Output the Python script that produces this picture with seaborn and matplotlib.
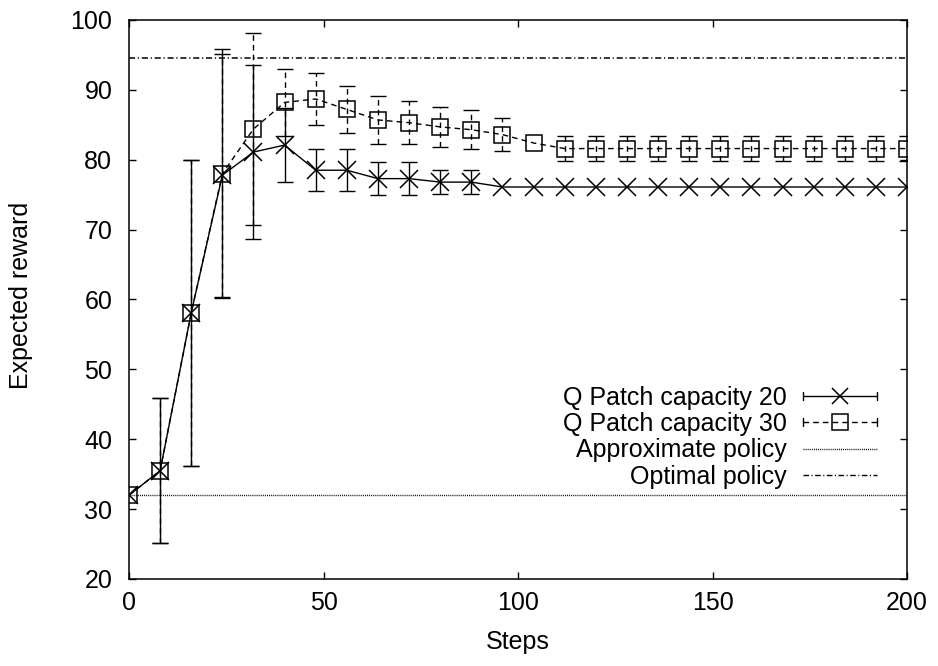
import numpy as np
import pandas as pd
import matplotlib
matplotlib.use("Agg")
import matplotlib.pyplot as plt
import seaborn as sns
from matplotlib.lines import Line2D
from matplotlib.legend_handler import HandlerBase

# ---------------- data ----------------
steps = [0, 8, 16, 24, 32, 40, 48, 56, 64, 72, 80, 88, 96, 104,
         112, 120, 128, 136, 144, 152, 160, 168, 176, 184, 192, 200]

q20_mean = [32.0, 35.5, 58.1, 77.8, 81.1, 82.1, 78.5, 78.5, 77.3, 77.3,
            76.8, 76.8, 76.1, 76.1, 76.1, 76.1, 76.1, 76.1, 76.1, 76.1,
            76.1, 76.1, 76.1, 76.1, 76.1, 76.1]
q20_err = [0.0, 10.4, 21.9, 17.4, 12.5, 5.3, 3.0, 3.0, 2.4, 2.4,
           1.7, 1.7, 0.0, 0.0, 0.0, 0.0, 0.0, 0.0, 0.0, 0.0,
           0.0, 0.0, 0.0, 0.0, 0.0, 0.0]

q30_mean = [32.0, 35.5, 58.1, 78.0, 84.4, 88.2, 88.7, 87.2, 85.7, 85.3,
            84.7, 84.3, 83.6, 82.4, 81.6, 81.6, 81.6, 81.6, 81.6, 81.6,
            81.6, 81.6, 81.6, 81.6, 81.6, 81.6]
q30_err = [0.0, 10.4, 21.9, 17.8, 13.7, 4.8, 3.7, 3.4, 3.4, 3.05,
           2.9, 2.8, 2.4, 0.0, 1.8, 1.8, 1.8, 1.8, 1.8, 1.8,
           1.8, 1.8, 1.8, 1.8, 1.8, 1.8]

approx_policy = 32.0
optimal_policy = 94.6

labels = ["Q Patch capacity 20", "Q Patch capacity 30",
          "Approximate policy", "Optimal policy"]
x_ticks = [0, 50, 100, 150, 200]
y_ticks = [20, 30, 40, 50, 60, 70, 80, 90, 100]

# ---------------- style ----------------
sns.set_theme(style="ticks")
plt.rcParams["font.family"] = ["Liberation Sans", "DejaVu Sans"]
FS = 18
plt.rcParams.update({
    "axes.edgecolor": "black",
    "axes.linewidth": 1.1,
    "xtick.color": "black",
    "ytick.color": "black",
    "text.color": "black",
    "axes.labelcolor": "black",
})

DASH = (0, (4, 3))
DOT = (0, (0.7, 0.8))
DASHDOT = (0, (4, 1.8, 0.8, 1.8))

fig = plt.figure(figsize=(9.38, 6.66), dpi=100)
ax = fig.add_axes([129 / 938, 1 - 579 / 666, 778 / 938, 559 / 666])

df20 = pd.DataFrame({"Steps": steps, "reward": q20_mean})
df30 = pd.DataFrame({"Steps": steps, "reward": q30_mean})

sns.lineplot(data=df20, x="Steps", y="reward", marker="x",
             color="black", linewidth=1.0, markersize=12.5,
             mec="black", mew=1.1, legend=False, ax=ax, zorder=3)
sns.lineplot(data=df30, x="Steps", y="reward", marker="s",
             color="black", linewidth=1.0, markersize=12, linestyle=DASH,
             mfc="none", mec="black", mew=1.1, legend=False, ax=ax, zorder=3)

x_arr = np.array(steps, dtype=float)
for mean, err, ls in [(q20_mean, q20_err, "solid"), (q30_mean, q30_err, DASH)]:
    mean = np.array(mean)
    err = np.array(err)
    m = err > 0
    eb = ax.errorbar(x_arr[m], mean[m], yerr=err[m], fmt="none",
                     ecolor="black", elinewidth=1.0, capsize=5.5,
                     capthick=1.0, zorder=2)
    eb[2][0].set_linestyle(ls)

ax.axhline(approx_policy, color="black", lw=1.0, ls=DOT, zorder=1)
ax.axhline(optimal_policy, color="black", lw=1.1, ls=DASHDOT, zorder=1)

ax.set_xlim(0, 200)
ax.set_ylim(20, 100)
ax.set_xticks(x_ticks)
ax.set_yticks(y_ticks)
ax.tick_params(direction="in", length=5, width=1.0, top=True, right=True,
               labelsize=FS)
ax.tick_params(axis="x", pad=8.5)
ax.tick_params(axis="y", pad=12)
for s in ax.spines.values():
    s.set_visible(True)

ax.set_xlabel("Steps", fontsize=FS, va="center")
ax.xaxis.set_label_coords(0.5, (579 - 642) / 559)
ax.set_ylabel("Expected reward", fontsize=FS, va="center")
ax.yaxis.set_label_coords((21 - 129) / 778, 0.508)


# ---------------- gnuplot-like legend ----------------
class GnuHandler(HandlerBase):
    def __init__(self, ls, marker=None, caps=False):
        super().__init__()
        self.ls = ls
        self.marker = marker
        self.caps = caps

    def create_artists(self, legend, orig_handle, xdescent, ydescent,
                       width, height, fontsize, trans):
        x0 = -xdescent
        x1 = width - xdescent
        y = (height - ydescent) / 2
        arts = [Line2D([x0, x1], [y, y], color="black", lw=1.0, ls=self.ls)]
        if self.caps:
            h = 3.0
            arts.append(Line2D([x0, x0], [y - h, y + h], color="black", lw=1.0))
            arts.append(Line2D([x1, x1], [y - h, y + h], color="black", lw=1.0))
        if self.marker:
            arts.append(Line2D([(x0 + x1) / 2], [y], marker=self.marker,
                               ms=12, mfc="none", mec="black", mew=1.1,
                               ls="none"))
        for a in arts:
            a.set_transform(trans)
        return arts


proxies = [Line2D([], []) for _ in range(4)]
handler_map = {
    proxies[0]: GnuHandler("solid", "x", True),
    proxies[1]: GnuHandler(DASH, "s", True),
    proxies[2]: GnuHandler(DOT),
    proxies[3]: GnuHandler(DASHDOT),
}
ax.legend(proxies, labels, handler_map=handler_map, markerfirst=False,
          loc="lower right", bbox_to_anchor=((877 - 129) / 778, (579 - 489) / 559),
          borderaxespad=0, borderpad=0, frameon=False, fontsize=FS,
          handlelength=2.96, handletextpad=0.64, labelspacing=0.1)

fig.savefig("out.png", dpi=100)
